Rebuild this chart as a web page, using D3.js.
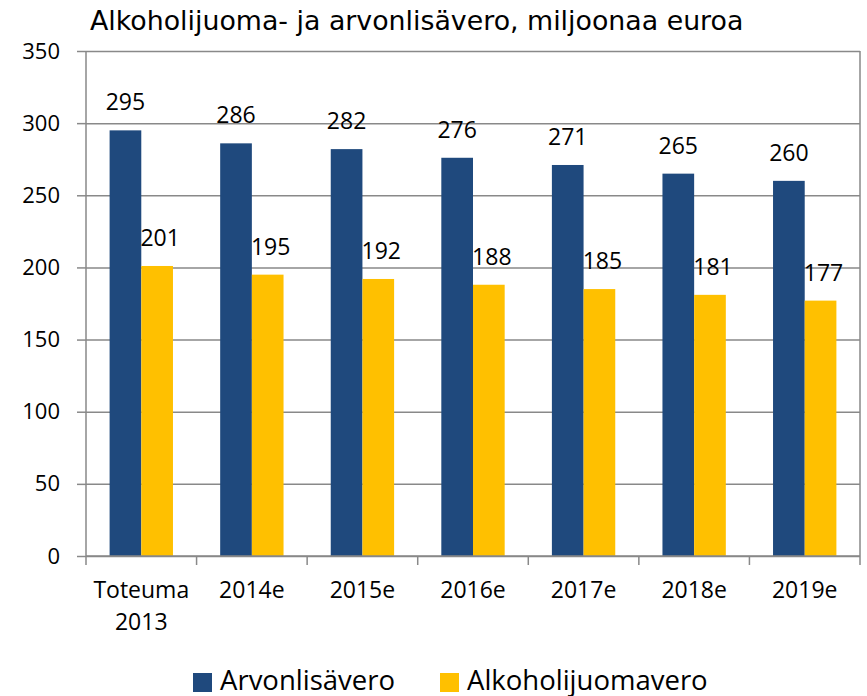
<!DOCTYPE html>
<html>
<head>
<meta charset="utf-8">
<script src="https://cdn.jsdelivr.net/npm/d3@7"></script>
<style>
    body { margin: 0; background: #fff; }
    text { fill: #000; }
</style>
</head>
<body>
<svg id="chart" width="867" height="696"></svg>
<script>
var width = 867,
    height = 696;

// chart data
var categories = ["Toteuma 2013", "2014e", "2015e", "2016e", "2017e", "2018e", "2019e"];
var series = ["Arvonlisävero", "Alkoholijuomavero"];
var arvonlisavero = [295, 286, 282, 276, 271, 265, 260];
var alkoholijuomavero = [201, 195, 192, 188, 185, 181, 177];
var yTicks = [0, 50, 100, 150, 200, 250, 300, 350];
var colors = ["#1F497D", "#FFC000"];
var title = "Alkoholijuoma- ja arvonlisävero, miljoonaa euroa";

var margin = { left: 86, right: 7, top: 51, bottom: 140 };
var plotW = width - margin.left - margin.right,
    plotH = height - margin.top - margin.bottom;

var svg = d3.select("#chart");

var x0 = d3.scaleBand().domain(categories).range([margin.left, margin.left + plotW]).padding(0);
var x1 = d3.scaleBand().domain(series).range([0, x0.bandwidth()]).paddingInner(0).paddingOuter(0.745);
var y = d3.scaleLinear().domain([0, 350]).range([margin.top + plotH, margin.top]);

// Gridlines
svg.append("g")
    .attr("transform", "translate(" + margin.left + ",0)")
    .call(d3.axisLeft(y).tickValues(yTicks).tickSize(-plotW).tickFormat(""))
    .call(function (g) {
        g.select(".domain").remove();
        g.selectAll("line").attr("stroke", "#898989").attr("stroke-width", 1.5);
    });

// Y axis with outside ticks + labels
svg.append("g")
    .attr("transform", "translate(" + margin.left + ",0)")
    .call(d3.axisLeft(y).tickValues(yTicks).tickSize(9).tickPadding(17))
    .call(function (g) {
        g.select(".domain").remove();
        g.selectAll("line").attr("stroke", "#898989").attr("stroke-width", 1.5);
        g.selectAll("text")
            .attr("font-family", "'Open Sans'")
            .attr("font-size", 22)
            .attr("fill", "#000");
    });

// Plot frame: left axis, right border
var bottom = y(0);
svg.append("line")
    .attr("x1", margin.left).attr("x2", margin.left)
    .attr("y1", y(350)).attr("y2", bottom + 9)
    .attr("stroke", "#898989").attr("stroke-width", 1.5);
svg.append("line")
    .attr("x1", margin.left + plotW).attr("x2", margin.left + plotW)
    .attr("y1", y(350)).attr("y2", bottom + 9)
    .attr("stroke", "#898989").attr("stroke-width", 1.5);

// Category boundary ticks
svg.append("g")
    .selectAll("line")
    .data(categories.slice(1))
    .join("line")
    .attr("x1", function (d) { return x0(d); })
    .attr("x2", function (d) { return x0(d); })
    .attr("y1", bottom)
    .attr("y2", bottom + 9)
    .attr("stroke", "#898989").attr("stroke-width", 1.5);

// Bars
var rows = categories.map(function (c, i) {
    return { cat: c, values: [arvonlisavero[i], alkoholijuomavero[i]] };
});

var groups = svg.append("g")
    .selectAll("g")
    .data(rows)
    .join("g")
    .attr("transform", function (d) { return "translate(" + x0(d.cat) + ",0)"; });

groups.selectAll("rect")
    .data(function (d) { return d.values.map(function (v, j) { return { s: series[j], v: v, j: j }; }); })
    .join("rect")
    .attr("x", function (d) { return x1(d.s); })
    .attr("y", function (d) { return y(d.v); })
    .attr("width", x1.bandwidth())
    .attr("height", function (d) { return bottom - y(d.v); })
    .attr("fill", function (d) { return colors[d.j]; });

// Bottom axis line drawn over bars
svg.append("line")
    .attr("x1", margin.left).attr("x2", margin.left + plotW)
    .attr("y1", bottom).attr("y2", bottom)
    .attr("stroke", "#898989").attr("stroke-width", 1.5);

// Value labels
groups.selectAll("text.val")
    .data(function (d) { return d.values.map(function (v, j) { return { s: series[j], v: v, j: j }; }); })
    .join("text")
    .attr("class", "val")
    .attr("x", function (d) { return x1(d.s) + x1.bandwidth() / 2 + (d.j == 1 ? 3 : 0); })
    .attr("y", function (d) { return y(d.v) - 20; })
    .attr("text-anchor", "middle")
    .attr("font-family", "'Open Sans'")
    .attr("font-size", 23)
    .text(function (d) { return d.v; });

// Category labels
svg.append("g")
    .selectAll("text")
    .data(categories)
    .join("text")
    .attr("x", function (d) { return x0(d) + x0.bandwidth() / 2; })
    .attr("y", bottom + 42)
    .attr("text-anchor", "middle")
    .attr("font-family", "'Open Sans'")
    .attr("font-size", 23)
    .each(function (d) {
        var parts = d.split(" ");
        d3.select(this).selectAll("tspan")
            .data(parts)
            .join("tspan")
            .attr("x", x0(d) + x0.bandwidth() / 2)
            .attr("dy", function (p, i) { return i == 0 ? 0 : 32; })
            .text(function (p) { return p; });
    });

// Title
svg.append("text")
    .attr("x", 90)
    .attr("y", 30)
    .attr("font-family", "'DejaVu Sans'")
    .attr("font-size", 26.8)
    .text(title);

// Legend
var legendX = [193, 440];
var legend = svg.append("g")
    .selectAll("g")
    .data(series)
    .join("g")
    .attr("transform", function (d, i) { return "translate(" + legendX[i] + ",673)"; });

legend.append("rect")
    .attr("width", 19)
    .attr("height", 19)
    .attr("fill", function (d, i) { return colors[i]; });

legend.append("text")
    .attr("x", 27)
    .attr("y", 16.5)
    .attr("font-family", "'Open Sans'")
    .attr("font-size", 27.5)
    .text(function (d) { return d; });
</script>
</body>
</html>
